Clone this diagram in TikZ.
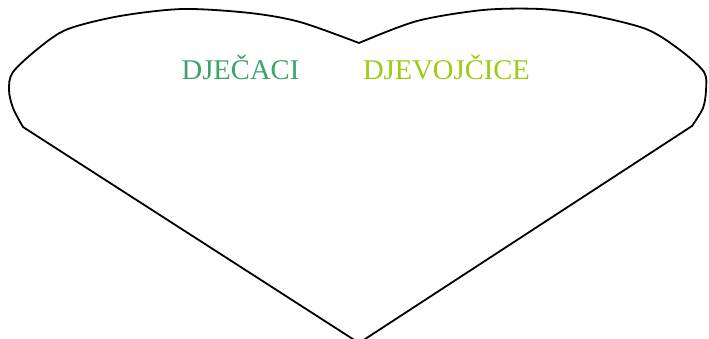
\documentclass[tikz,border=0pt]{standalone}
\usepackage{fontspec}
\setmainfont{Liberation Serif}
\definecolor{boygreen}{HTML}{3BA36B}
\definecolor{girlgreen}{HTML}{9BCB12}
\begin{document}
\begin{tikzpicture}[x=1pt,y=-1pt,
  outline/.style={draw=black,line width=1.8pt,line join=round},
  lbl/.style={anchor=base,inner sep=0pt,font=\fontsize{28.6}{32}\selectfont}]
\useasboundingbox (0,0) rectangle (709,338);
\begin{scope}
\clip (0,0) rectangle (709,338);
\coordinate (notch) at (359,43);
\coordinate (lend) at (23,127);
\coordinate (tip) at (359,343);
\coordinate (rend) at (692,126);
\draw[outline] plot[smooth,tension=0.5] coordinates {(359,43) (300,22) (250,13) (183,9) (120,16) (68,29) (40,47) (13,72) (9,90) (13,108) (23,127)}
  -- (tip) -- (rend)
  plot[smooth,tension=0.5] coordinates {(692,126) (703,108) (706,90) (704,72) (680,50) (646,29) (590,15) (540,9) (483,10) (417,21) (359,43)};
\end{scope}
\node[lbl,text=boygreen] (boys) at (240.5,79.5) {DJEČACI};
\node[lbl,text=girlgreen] (girls) at (446.5,79.5) {DJEVOJČICE};
\end{tikzpicture}
\end{document}
